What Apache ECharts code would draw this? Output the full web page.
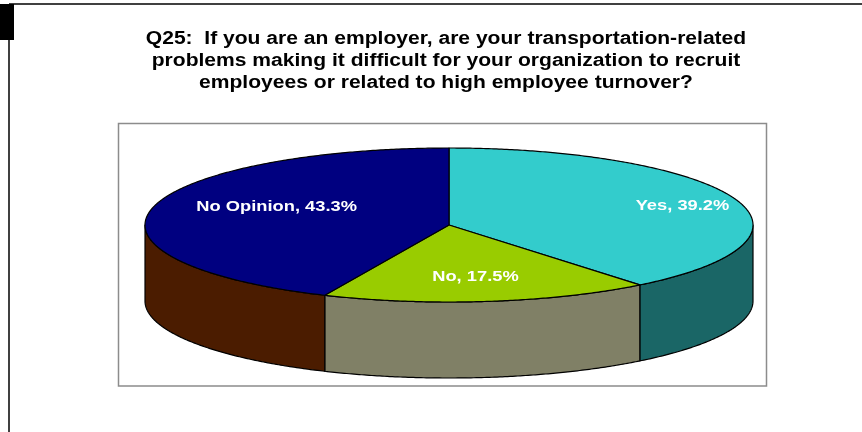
<!DOCTYPE html>
<html>
<head>
<meta charset="utf-8">
<script src="https://cdn.jsdelivr.net/npm/echarts@6/dist/echarts.min.js"></script>
<style>
html,body{margin:0;padding:0;background:#fff;}
#chart{width:862px;height:432px;}
</style>
</head>
<body>
<div id="chart"></div>
<script>
// ---- data ----
var categories = ['Yes', 'No', 'No Opinion'];
var values = [39.2, 17.5, 43.3];
var titleLines = [
  'Q25:  If you are an employer, are your transportation-related',
  'problems making it difficult for your organization to recruit',
  'employees or related to high employee turnover?'
];

// ---- style ----
var topColors = ['#33CCCC', '#99CC00', '#000080'];
var sideColors = ['#1A6666', '#808066', '#4B1C00'];
var labelAnchor = [[0.768, -0.25], [0.087, 0.675], [-0.567, -0.235]];
var geo = { cx: 449, cy: 225, rx: 304, ry: 77, depth: 76 };
var FONT = '"Liberation Sans", Arial, sans-serif';

var total = values.reduce(function (a, b) { return a + b; }, 0);

function pt(deg, dy) {
  var r = deg * Math.PI / 180;
  return [geo.cx + geo.rx * Math.sin(r), geo.cy - geo.ry * Math.cos(r) + (dy || 0)];
}

function renderItem(params, api) {
  var i = params.dataIndex;
  var before = 0;
  for (var k = 0; k < i; k++) before += values[k];
  var a0 = before / total * 360;
  var a1 = (before + api.value(0)) / total * 360;
  var children = [];
  // side (front-facing part only: 90..270 deg)
  var s0 = Math.max(a0, 90), s1 = Math.min(a1, 270);
  if (s1 > s0) {
    var sp = [];
    var n = Math.max(2, Math.ceil((s1 - s0) / 0.5));
    for (var j = 0; j <= n; j++) sp.push(pt(s0 + (s1 - s0) * j / n, 0));
    for (var j2 = n; j2 >= 0; j2--) sp.push(pt(s0 + (s1 - s0) * j2 / n, geo.depth));
    children.push({
      type: 'polygon',
      shape: { points: sp },
      style: { fill: sideColors[i], stroke: '#000', lineWidth: 1.2, lineJoin: 'round' }
    });
  }
  // top
  var tp = [[geo.cx, geo.cy]];
  var m = Math.max(2, Math.ceil((a1 - a0) / 0.5));
  for (var t = 0; t <= m; t++) tp.push(pt(a0 + (a1 - a0) * t / m, 0));
  children.push({
    type: 'polygon',
    shape: { points: tp },
    style: { fill: topColors[i], stroke: '#000', lineWidth: 1.2, lineJoin: 'round' }
  });
  // label
  children.push({
    type: 'text',
    x: geo.cx + labelAnchor[i][0] * geo.rx,
    y: geo.cy + labelAnchor[i][1] * geo.ry,
    scaleX: 1.22,
    style: {
      text: categories[i] + ', ' + api.value(0).toFixed(1) + '%',
      fill: '#fff',
      font: 'bold 15px ' + FONT,
      align: 'center',
      verticalAlign: 'middle'
    }
  });
  return { type: 'group', children: children };
}

var titleGraphics = titleLines.map(function (line, i) {
  return {
    type: 'text',
    x: 446,
    y: 39 + i * 22,
    scaleX: 1.17,
    style: {
      text: line,
      fill: '#000',
      font: 'bold 18px ' + FONT,
      align: 'center',
      verticalAlign: 'middle'
    }
  };
});

var chart = echarts.init(document.getElementById('chart'), null, { renderer: 'canvas' });
chart.setOption({
  animation: false,
  backgroundColor: '#fff',
  graphic: [
    { type: 'rect', shape: { x: 0, y: 4, width: 14, height: 36 }, style: { fill: '#000' } },
    { type: 'line', shape: { x1: 9, y1: 4, x2: 9, y2: 432 }, style: { stroke: '#000', lineWidth: 1.5 } },
    { type: 'line', shape: { x1: 9, y1: 4, x2: 862, y2: 4 }, style: { stroke: '#000', lineWidth: 1.5 } },
    { type: 'rect', shape: { x: 118.5, y: 123.5, width: 648, height: 262.5 }, style: { fill: 'none', stroke: '#8c8c8c', lineWidth: 1.5 } }
  ].concat(titleGraphics),
  series: [{
    type: 'custom',
    coordinateSystem: 'none',
    renderItem: renderItem,
    data: values.map(function (v, i) { return { name: categories[i], value: [v] }; })
  }]
});
</script>
</body>
</html>
